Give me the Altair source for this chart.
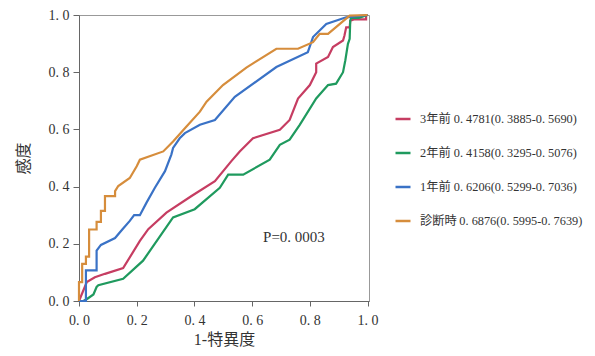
import altair as alt
import pandas as pd

# ---- data ----
series = ["3年前", "2年前", "1年前", "診断時"]
gaps = ["  ", "  ", "  ", "\u2009"]
auc_text = [
    "0. 4781(0. 3885-0. 5690)",
    "0. 4158(0. 3295-0. 5076)",
    "0. 6206(0. 5299-0. 7036)",
    "0. 6876(0. 5995-0. 7639)",
]
colors = ["#c63d62", "#1f9a5e", "#3a72c6", "#d68d3c"]

x_3y = [0, 0.027, 0.055, 0.09, 0.153, 0.211, 0.24, 0.303, 0.39, 0.471, 0.528, 0.557, 0.603,
        0.696, 0.73, 0.759, 0.8, 0.822, 0.822, 0.863, 0.88, 0.915, 0.92, 0.926, 0.938, 0.94,
        0.955, 0.995, 0.995, 1.0]
y_3y = [0, 0.066, 0.083, 0.095, 0.115, 0.21, 0.251, 0.309, 0.367, 0.419, 0.489, 0.523, 0.569,
        0.599, 0.633, 0.708, 0.755, 0.80, 0.83, 0.853, 0.888, 0.911, 0.928, 0.957, 0.957, 0.98,
        0.985, 0.985, 1.0, 1.0]

x_2y = [0, 0.015, 0.029, 0.05, 0.061, 0.067, 0.153, 0.222, 0.326, 0.401, 0.488, 0.517, 0.569,
        0.661, 0.696, 0.73, 0.765, 0.822, 0.863, 0.891, 0.915, 0.923, 0.932, 0.938, 0.94,
        0.943, 0.97, 1.0]
y_2y = [0, 0, 0.008, 0.023, 0.049, 0.055, 0.078, 0.141, 0.292, 0.321, 0.396, 0.442, 0.442,
        0.494, 0.546, 0.564, 0.616, 0.708, 0.755, 0.76, 0.80, 0.842, 0.899, 0.917, 0.98,
        0.99, 0.99, 1.0]

x_1y = [0, 0.024, 0.024, 0.061, 0.061, 0.076, 0.125, 0.15, 0.176, 0.191, 0.211, 0.234, 0.263,
        0.298, 0.32, 0.326, 0.349, 0.367, 0.419, 0.471, 0.54, 0.684, 0.793, 0.811, 0.857,
        0.926, 1.0]
y_1y = [0, 0, 0.107, 0.107, 0.176, 0.196, 0.22, 0.25, 0.28, 0.30, 0.30, 0.344, 0.396,
        0.454, 0.512, 0.535, 0.569, 0.587, 0.616, 0.633, 0.714, 0.818, 0.87, 0.923, 0.969,
        0.992, 1.0]

x_dx = [0, 0, 0.011, 0.011, 0.024, 0.024, 0.035, 0.035, 0.061, 0.061, 0.076, 0.076, 0.09,
        0.09, 0.125, 0.125, 0.136, 0.176, 0.2, 0.211, 0.292, 0.326, 0.367, 0.419, 0.442,
        0.499, 0.58, 0.684, 0.759, 0.811, 0.834, 0.863, 0.938, 1.0]
y_dx = [0, 0.066, 0.066, 0.13, 0.13, 0.155, 0.155, 0.25, 0.25, 0.277, 0.277, 0.315, 0.315,
        0.367, 0.367, 0.384, 0.402, 0.43, 0.471, 0.494, 0.523, 0.558, 0.604, 0.662, 0.697,
        0.755, 0.816, 0.882, 0.882, 0.905, 0.934, 0.934, 0.998, 1.0]

p_text = ["P=0. 0003"]
p_x = [0.745]
p_y = [0.225]

tick_values = [0.0, 0.1, 0.2, 0.3, 0.4, 0.5, 0.6, 0.7, 0.8, 0.9, 1.0]

# ---- build tables ----
labels = [f"{s}{g}{a}" for s, g, a in zip(series, gaps, auc_text)]
rows = []
for lab, xs, ys in zip(labels, [x_3y, x_2y, x_1y, x_dx], [y_3y, y_2y, y_1y, y_dx]):
    for i, (a, b) in enumerate(zip(xs, ys)):
        rows.append({"series": lab, "fpr": a, "tpr": b, "order": i})
df = pd.DataFrame(rows)
pdf = pd.DataFrame({"text": p_text, "x": p_x, "y": p_y})

FONT = "Liberation Serif, Noto Sans CJK JP"
xscale = alt.Scale(domain=[0, 1.005], nice=False, zero=False)
yscale = alt.Scale(domain=[0, 1.0], nice=False, zero=False)
label_expr = ("round(datum.value * 10) % 2 == 1 ? '' : "
              "replace(format(datum.value, '.1f'), '.', '. ')")

lines = alt.Chart(df).mark_line(strokeWidth=2.2).encode(
    x=alt.X("fpr:Q", scale=xscale,
            axis=alt.Axis(orient="bottom", values=tick_values, labelExpr=label_expr,
                          title="1-特異度", tickSize=5, labelPadding=7, titlePadding=4,
                          titleFontSize=16, grid=False, labelFlush=False,
                          labelOverlap=False)),
    y=alt.Y("tpr:Q", scale=yscale,
            axis=alt.Axis(orient="left", values=tick_values, labelExpr=label_expr,
                          title="感度", tickSize=6, labelPadding=4, titlePadding=17,
                          titleFontSize=16, grid=False, labelFlush=False,
                          labelOverlap=False)),
    color=alt.Color("series:N",
                    scale=alt.Scale(domain=labels, range=colors),
                    legend=alt.Legend(title=None, orient="none", legendX=315, legendY=95,
                                      symbolType="stroke", symbolSize=225,
                                      symbolStrokeWidth=2.5, labelFontSize=12.3,
                                      labelOffset=8, rowPadding=18, labelFont=FONT,
                                      labelColor="#333", padding=0, labelLimit=400)),
    order="order:Q",
)

ptext = alt.Chart(pdf).mark_text(fontSize=15, font=FONT, color="#333").encode(
    x=alt.X("x:Q", scale=xscale),
    y=alt.Y("y:Q", scale=yscale),
    text="text:N",
)

chart = alt.layer(lines, ptext).properties(
    width=290, height=286,
    autosize=alt.AutoSizeParams(type="none"),
    padding={"left": 71, "top": 7, "right": 218, "bottom": 48},
).configure_view(
    stroke="#999", strokeWidth=1
).configure_axis(
    labelFont=FONT, titleFont=FONT, labelFontSize=14, labelColor="#333",
    titleColor="#333", titleFontWeight="normal", domainColor="#666", tickColor="#666",
    domainWidth=1, tickWidth=1,
)

chart.save("out.html", embed_options={"renderer": "svg", "actions": False})
